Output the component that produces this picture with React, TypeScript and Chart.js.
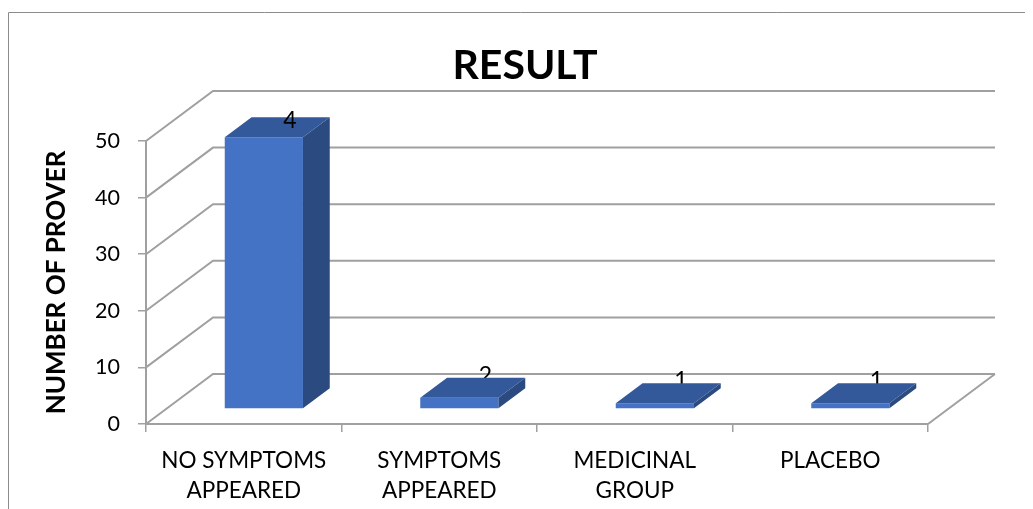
import React, { useEffect, useRef } from 'react';
import { Chart, registerables } from 'chart.js';

Chart.register(...registerables);

// ---- data ----
const categories: string[][] = [
  ['NO SYMPTOMS', 'APPEARED'],
  ['SYMPTOMS', 'APPEARED'],
  ['MEDICINAL', 'GROUP'],
  ['PLACEBO'],
];
const proverCounts: number[] = [48, 2, 1, 1];
const valueLabels: string[] = ['4', '2', '1', '1'];
const yMin = 0;
const yMax = 50;
const yStep = 10;
const chartTitle = 'RESULT';
const yAxisTitle = 'NUMBER OF PROVER';

// ---- style ----
const FONT = 'Lato, "Open Sans", sans-serif';
const GRID = '#a0a0a0';
const FRAME = '#8c8c8c';
const FRONT = '#4472C4';
const TOP = '#34599A';
const SIDE = '#2B4A80';
const DEPTH = { x: 67, y: -50 };
const BAR_FRONT = 0.3;
const BAR_DEPTH = 0.4;

const threeD = {
  id: 'threeD',
  beforeDraw(chart: any) {
    const { ctx, width, height } = chart;
    ctx.save();
    ctx.strokeStyle = FRAME;
    ctx.lineWidth = 1;
    ctx.beginPath();
    ctx.moveTo(0.5, height);
    ctx.lineTo(0.5, 4.5);
    ctx.lineTo(width, 4.5);
    ctx.stroke();
    // chart title
    ctx.fillStyle = '#000';
    ctx.font = `bold 41px ${FONT}`;
    ctx.textAlign = 'center';
    ctx.textBaseline = 'alphabetic';
    ctx.fillText(chartTitle, 517, 71);
    ctx.restore();
  },
  beforeDatasetsDraw(chart: any) {
    const { ctx, chartArea: a } = chart;
    const y = chart.scales.y;
    ctx.save();
    ctx.strokeStyle = GRID;
    ctx.lineWidth = 2;
    y.ticks.forEach((t: any) => {
      const py = y.getPixelForValue(t.value);
      ctx.beginPath();
      ctx.moveTo(a.left, py);
      ctx.lineTo(a.left + DEPTH.x, py + DEPTH.y);
      ctx.lineTo(a.right + DEPTH.x, py + DEPTH.y);
      ctx.stroke();
    });
    const p0 = y.getPixelForValue(0);
    ctx.beginPath();
    ctx.moveTo(a.right, p0);
    ctx.lineTo(a.right + DEPTH.x, p0 + DEPTH.y);
    ctx.stroke();
    ctx.restore();
    ctx.save();
    ctx.translate(BAR_FRONT * DEPTH.x, BAR_FRONT * DEPTH.y);
  },
  afterDatasetsDraw(chart: any) {
    const { ctx } = chart;
    ctx.restore();
    const ox = BAR_FRONT * DEPTH.x;
    const oy = BAR_FRONT * DEPTH.y;
    const bx = BAR_DEPTH * DEPTH.x;
    const by = BAR_DEPTH * DEPTH.y;
    const meta = chart.getDatasetMeta(0);
    ctx.save();
    meta.data.forEach((bar: any, i: number) => {
      const { x, y, base, width } = bar.getProps(['x', 'y', 'base', 'width'], true);
      const l = x - width / 2 + ox;
      const r = x + width / 2 + ox;
      const t = y + oy;
      const b = base + oy;
      const tall = b - t > 40;
      const drawLabel = () => {
        ctx.fillStyle = '#000';
        ctx.font = `23px ${FONT}`;
        ctx.textAlign = 'center';
        ctx.textBaseline = 'alphabetic';
        ctx.fillText(valueLabels[i], x + ox + 26, t + by + (tall ? 11 : 5));
      };
      // side face
      ctx.fillStyle = SIDE;
      ctx.beginPath();
      ctx.moveTo(r, t);
      ctx.lineTo(r + bx, t + by);
      ctx.lineTo(r + bx, b + by);
      ctx.lineTo(r, b);
      ctx.closePath();
      ctx.fill();
      if (!tall) drawLabel();
      // top face
      ctx.fillStyle = TOP;
      ctx.beginPath();
      ctx.moveTo(l, t);
      ctx.lineTo(r, t);
      ctx.lineTo(r + bx, t + by);
      ctx.lineTo(l + bx, t + by);
      ctx.closePath();
      ctx.fill();
      if (tall) drawLabel();
    });
    ctx.restore();
  },
};

export default function App() {
  const ref = useRef<HTMLCanvasElement | null>(null);
  useEffect(() => {
    if (!ref.current) return;
    const chart = new Chart(ref.current, {
      type: 'bar',
      data: {
        labels: categories,
        datasets: [
          {
            data: proverCounts,
            backgroundColor: FRONT,
            borderWidth: 0,
            categoryPercentage: 0.8,
            barPercentage: 0.5,
            clip: false as any,
          },
        ],
      },
      options: {
        animation: false,
        responsive: true,
        maintainAspectRatio: false,
        layout: { padding: { left: 0, right: 105, top: 133, bottom: 0 } },
        plugins: {
          legend: { display: false },
          tooltip: { enabled: false },
          title: { display: false },
        },
        scales: {
          x: {
            grid: {
              drawOnChartArea: false,
              drawTicks: true,
              tickLength: 8,
              color: GRID,
              lineWidth: 1.5,
              offset: true,
            },
            border: { display: true, color: GRID, width: 2 },
            ticks: {
              color: '#000',
              font: { family: FONT, size: 22.5, lineHeight: '30px' as any },
              padding: 14,
              autoSkip: false,
              maxRotation: 0,
              minRotation: 0,
            },
            afterFit: (s: any) => {
              s.height = 85;
            },
          },
          y: {
            min: yMin,
            max: yMax,
            grid: {
              drawOnChartArea: false,
              drawTicks: true,
              tickLength: 8,
              color: GRID,
              lineWidth: 1.5,
            },
            border: { display: true, color: GRID, width: 2 },
            ticks: {
              stepSize: yStep,
              color: '#000',
              font: { family: FONT, size: 21.5 },
              padding: 18,
            },
            title: {
              display: true,
              text: yAxisTitle,
              color: '#000',
              font: { family: FONT, size: 26, weight: 'bold', lineHeight: 1.2 },
              padding: { top: 33, bottom: 0 },
            },
            afterFit: (s: any) => {
              s.width = 138;
            },
          },
        },
      },
      plugins: [threeD],
    });
    return () => chart.destroy();
  }, []);
  return (
    <div style={{ position: 'relative', width: 1025, height: 501 }}>
      <canvas ref={ref} />
    </div>
  );
}
